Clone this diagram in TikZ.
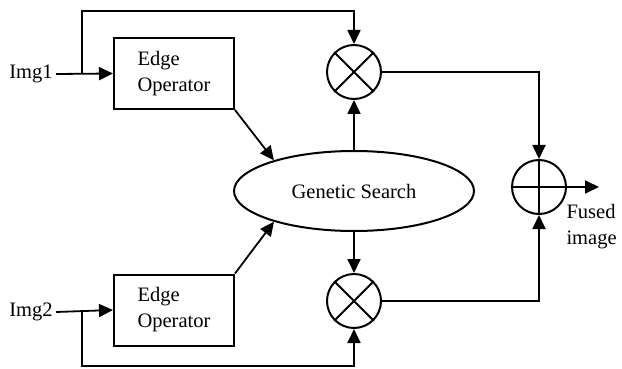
\documentclass[tikz,border=0pt]{standalone}
\usepackage{fontspec}
\setmainfont{Liberation Serif}
\usetikzlibrary{shapes.geometric,arrows.meta}
\begin{document}
\begin{tikzpicture}[x=1pt,y=-1pt,
  every node/.style={font=\fontsize{20.5}{26}\selectfont},
  line/.style={line width=1.8pt},
  arr/.style={line width=1.8pt,-{Triangle[length=14pt,width=13pt]}},
  opbox/.style={draw,line width=2pt,minimum width=120pt,minimum height=71pt,align=left,inner sep=0pt},
  mult/.style={draw,circle,line width=2pt,minimum size=54pt,inner sep=0pt},
  gsearch/.style={draw,ellipse,line width=2pt,minimum width=240pt,minimum height=80pt,inner sep=0pt}]
\useasboundingbox (0,0) rectangle (622,369);
\node (img1) at (31,74) {Img1};
\node (img2) at (31,312) {Img2};
\node[opbox] (b1) at (174,73.5) {Edge\\Operator};
\node[opbox] (b2) at (174,310) {Edge\\Operator};
\node[mult] (m1) at (354,72) {};
\node[mult] (m2) at (354,301) {};
\node[gsearch] (gs) at (354,191) {Genetic Search};
\node[mult] (add) at (539,187) {};
\node[align=left,anchor=west] (fused) at (563,227) {Fused\\image};
\coordinate (j1) at (82,74);
\coordinate (j2) at (82,312);
\coordinate (t1) at (82,11);
\coordinate (t2) at (82,366);
\coordinate (out) at (599,187);
\draw[line] (m1.45) -- (m1.225) (m1.135) -- (m1.315);
\draw[line] (m2.45) -- (m2.225) (m2.135) -- (m2.315);
\draw[line] (add.north) -- (add.south) (add.west) -- (add.east);
\draw[arr] (img1.east) -- (b1.west);
\draw[arr] (img2.east) -- (b2.west);
\draw[arr] (j1) -- (t1) -| (m1.north);
\draw[arr] (j2) -- (t2) -| (m2.south);
\draw[arr] (gs.north) -- (m1.south);
\draw[arr] (gs.south) -- (m2.north);
\draw[arr] (b1.south east) -- (gs.159);
\draw[arr] (b2.north east) -- (gs.201);
\draw[arr] (m1.east) -| (add.north);
\draw[arr] (m2.east) -| (add.south);
\draw[arr] (add.east) -- (out);
\end{tikzpicture}
\end{document}
